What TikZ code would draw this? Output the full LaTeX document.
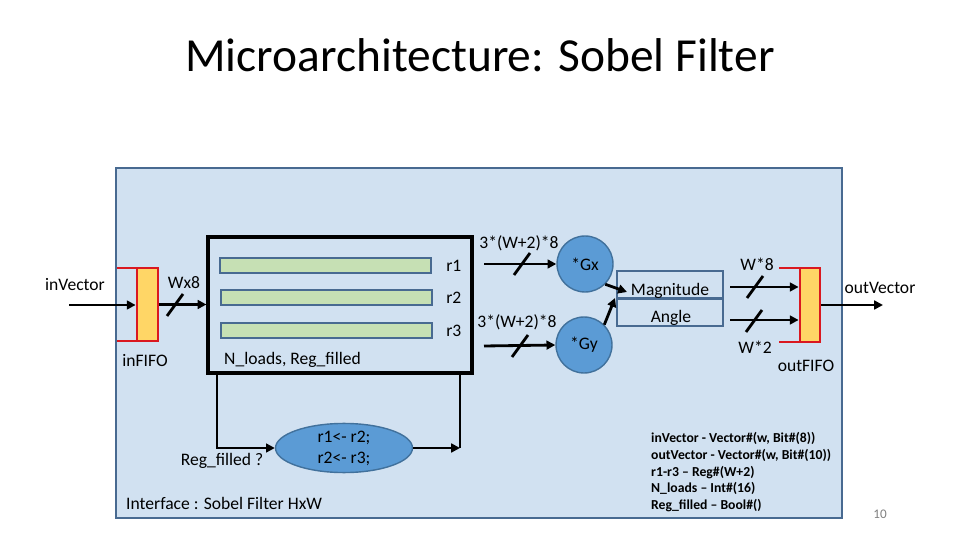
\documentclass[tikz,border=0pt]{standalone}
\usepackage{fontspec}
\setmainfont{Carlito}
\usetikzlibrary{arrows.meta,positioning,fit,shapes.geometric}
\definecolor{Panel}{RGB}{209,225,241}
\definecolor{PanelLine}{RGB}{72,106,145}
\definecolor{RegFill}{RGB}{198,224,180}
\definecolor{OpFill}{RGB}{91,155,213}
\definecolor{OpLine}{RGB}{65,113,156}
\definecolor{FifoFill}{RGB}{255,214,102}
\definecolor{FifoLine}{RGB}{218,24,32}

\begin{document}
\begin{tikzpicture}[x=0.02cm,y=-0.02cm,font=\fontsize{10}{12}\selectfont,
    >={Triangle[length=5pt,width=5pt]},
    wire/.style={line width=1.6pt,->},
    busmark/.style={line width=1.6pt},
    fifo/.style={fill=FifoFill,draw=FifoLine,line width=1.6pt,inner sep=0pt},
    regbar/.style={fill=RegFill,draw=PanelLine,line width=1.2pt,inner sep=0pt},
    gop/.style={circle,fill=OpFill,draw=OpLine,line width=0.8pt,minimum size=1.12cm,inner sep=0pt}]
    \useasboundingbox (0,0) rectangle (960,540);
    \node[font=\fontsize{27}{30}\selectfont] (title) at (480,55) {Microarchitecture: Sobel Filter};
    \node[fit={(116,168) (842,518)},inner sep=0pt,fill=Panel,draw=PanelLine,line width=1.2pt] (panel) {};

    % input side
    \draw[FifoLine,line width=1.6pt] (117,268) -- (158,268) (117,341) -- (158,341);
    \node[fifo,fit={(137,268) (158,341)}] (inq) {};
    \coordinate (vin) at (69,305);
    \node (invec) at (75,285) {inVector};
    \node (inqlabel) at (145,361) {inFIFO};
    \draw[wire] (vin) -- (vin -| inq.west);

    % register file
    \node[fit={(208,237) (472,373)},inner sep=0pt,draw,line width=1.8pt] (regs) {};
    \node[regbar,fit={(220,258) (431,273)}] (bar1) {};
    \node[regbar,fit={(221,290) (432,305)}] (bar2) {};
    \node[regbar,fit={(221,323) (432,338)}] (bar3) {};
    \node[right=0.16cm of bar1] (r1) {r1};
    \node[right=0.14cm of bar2] (r2) {r2};
    \node[right=0.14cm of bar3] (r3) {r3};
    \node[anchor=west] (flags) at (218,360) {N\_loads, Reg\_filled};
    \draw[wire] (inq.east) -- (regs.west |- inq.east);
    \node (wlabel) at (184,283) {Wx8};

    % shift logic
    \node[ellipse,fill=OpFill,draw=OpLine,line width=0.8pt,minimum width=2.74cm,minimum height=0.9cm,inner sep=0pt,align=center] (shift) at (344,448) {r1<- r2;\\r2<- r3;};
    \coordinate (loopl) at (217,373);
    \coordinate (loopr) at (460,373);
    \draw[wire] (loopl) |- (shift.west);
    \draw[wire] (shift.east) -- (shift.east -| loopr);
    \draw[line width=1.6pt] (loopr) -- (shift.east -| loopr);
    \node (cond) at (222,461) {Reg\_filled ?};
    \node[anchor=west] (iface) at (120,503) {Interface : Sobel Filter HxW};

    % gradient operators
    \node[gop] (gx) at (585,264) {*Gx};
    \node[gop] (gy) at (584,345) {*Gy};
    \coordinate (gxin) at (484,264);
    \coordinate (gyin) at (484,346);
    \draw[wire] (gxin) -- (gx.west);
    \draw[wire] (gyin) -- (gy.west);
    \node (gxw) at (519,243) {3*(W+2)*8};
    \node (gyw) at (517,322) {3*(W+2)*8};

    % magnitude / angle
    \node[fit={(617,271) (723,326)},inner sep=0pt,draw=PanelLine,line width=1.4pt] (mag) {};
    \draw[PanelLine,line width=1.4pt] (mag.west) -- (mag.east);
    \node (magtxt) at (670,291) {Magnitude};
    \node (angtxt) at (671,318) {Angle};
    \draw[wire] (gx.-45) -- (627,292);
    \draw[wire] (gy.45) -- (615,298);

    % output side
    \draw[FifoLine,line width=1.6pt] (779,268) -- (820,268) (779,342) -- (820,342);
    \node[fifo,fit={(800,268) (820,342)}] (outq) {};
    \coordinate (magout) at (730,287);
    \coordinate (angout) at (730,320);
    \draw[wire] (magout) -- (magout -| outq.west);
    \draw[wire] (angout) -- (angout -| outq.west);
    \node (w8) at (757,264) {W*8};
    \node (w2) at (755,347) {W*2};
    \coordinate (vout) at (883,305);
    \draw[wire] (outq.east |- vout) -- (vout);
    \node (outvec) at (880,288) {outVector};
    \node (outqlabel) at (806,366) {outFIFO};

    % bus widths
    \foreach \sx/\sy in {175/305,522/264,520/346,755/287,754/321}
      \draw[busmark] (\sx-8,\sy+11) -- (\sx+8,\sy-11);

    % types
    \node[anchor=north west,align=left,font=\fontsize{7.8}{9.6}\selectfont\bfseries] (types) at (645,426)
      {inVector - Vector\#(w, Bit\#(8))\\outVector - Vector\#(w, Bit\#(10))\\r1-r3 -- Reg\#(W+2)\\N\_loads -- Int\#(16)\\Reg\_filled -- Bool\#()};
    \node[text=gray,font=\fontsize{7.5}{8}\selectfont] (page) at (880,514) {10};
  \end{tikzpicture}
\end{document}
